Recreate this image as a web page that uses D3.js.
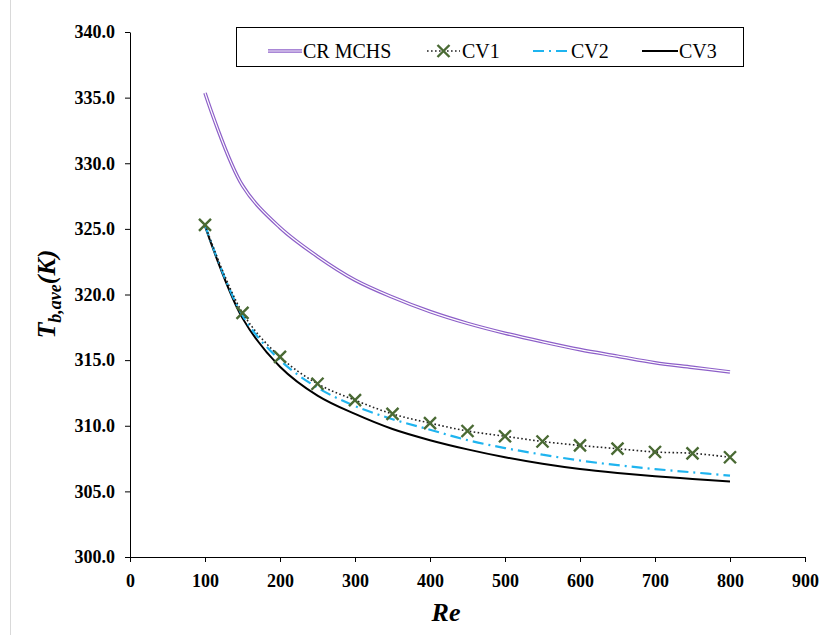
<!DOCTYPE html>
<html>
<head>
<meta charset="utf-8">
<script src="https://cdn.jsdelivr.net/npm/d3@7"></script>
<style>
  body { margin: 0; background: #fff; }
  svg, svg text { font-family: 'Liberation Serif', 'Times New Roman', serif; }
</style>
</head>
<body>
<div id="chart"></div>
<script>
const re = [100, 150, 200, 250, 300, 350, 400, 450, 500, 550, 600, 650, 700, 750, 800];
const crMchs = [335.35, 328.3, 325.1, 322.9, 321.1, 319.8, 318.7, 317.8, 317.05, 316.4, 315.8, 315.3, 314.8, 314.45, 314.1];
const cv1 = [325.3, 318.6, 315.25, 313.2, 311.95, 310.9, 310.2, 309.6, 309.2, 308.8, 308.5, 308.25, 308.0, 307.9, 307.6];
const cv2 = [325.3, 318.4, 315.0, 312.9, 311.5, 310.5, 309.7, 308.9, 308.3, 307.8, 307.35, 307.0, 306.7, 306.45, 306.2];
const cv3 = [325.2, 318.2, 314.5, 312.3, 310.9, 309.75, 308.9, 308.2, 307.6, 307.1, 306.7, 306.4, 306.15, 305.95, 305.75];
const xTicks = [0, 100, 200, 300, 400, 500, 600, 700, 800, 900];
const yTicks = [300, 305, 310, 315, 320, 325, 330, 335, 340];

const width = 828, height = 635;
const serif = "'Liberation Serif', 'Times New Roman', serif";
const svg = d3.select("#chart").append("svg")
  .attr("width", width).attr("height", height)
  .style("font-family", serif);

// faint frame edge on the left
svg.append("line")
  .attr("x1", 10.5).attr("x2", 10.5).attr("y1", 0).attr("y2", height)
  .attr("stroke", "#d9d9d9");

const x = d3.scaleLinear().domain([0, 900]).range([130, 805]);
const y = d3.scaleLinear().domain([300, 340]).range([557, 32]);

const xAxis = svg.append("g")
  .attr("transform", `translate(0,${y(300)})`)
  .call(d3.axisBottom(x).tickValues(xTicks).tickSize(5).tickSizeOuter(0).tickPadding(12));
const yAxis = svg.append("g")
  .attr("transform", `translate(${x(0)},0)`)
  .call(d3.axisLeft(y).tickValues(yTicks).tickFormat(d3.format(".1f")).tickSize(5).tickSizeOuter(0).tickPadding(10));

[xAxis, yAxis].forEach(g => {
  g.attr("font-family", null).style("font-family", serif);
  g.selectAll("path, line").attr("stroke", "#000").attr("stroke-width", 1);
  g.selectAll("text")
    .style("font-family", serif)
    .attr("font-size", 18).attr("font-weight", "bold").attr("fill", "#000");
});

const line = d3.line().x(d => x(d[0])).y(d => y(d[1])).curve(d3.curveCatmullRom.alpha(0.5));
const pts = vals => re.map((r, i) => [r, vals[i]]);

// CR MCHS: double purple line
svg.append("path").attr("d", line(pts(crMchs)))
  .attr("fill", "none").attr("stroke", "#8d5fc8").attr("stroke-width", 3.6);
svg.append("path").attr("d", line(pts(crMchs)))
  .attr("fill", "none").attr("stroke", "#fff").attr("stroke-width", 1.2);

svg.append("path").attr("d", line(pts(cv3)))
  .attr("fill", "none").attr("stroke", "#000").attr("stroke-width", 2);

svg.append("path").attr("d", line(pts(cv2)))
  .attr("fill", "none").attr("stroke", "#1fb4ef").attr("stroke-width", 2.2)
  .attr("stroke-dasharray", "11,5,2,5");

svg.append("path").attr("d", line(pts(cv1)))
  .attr("fill", "none").attr("stroke", "#222").attr("stroke-width", 1.6)
  .attr("stroke-dasharray", "1.6,2.4");

const cross = (g, cx, cy) => {
  const s = 6;
  g.append("path")
    .attr("d", `M${cx - s},${cy - s}L${cx + s},${cy + s}M${cx - s},${cy + s}L${cx + s},${cy - s}`)
    .attr("stroke", "#4a6a34").attr("stroke-width", 2.4).attr("fill", "none");
};
const marks = svg.append("g");
pts(cv1).forEach(d => cross(marks, x(d[0]), y(d[1])));

// legend
const lg = svg.append("g");
lg.append("rect").attr("x", 236.5).attr("y", 27.5).attr("width", 507).attr("height", 39)
  .attr("fill", "#fff").attr("stroke", "#000").attr("stroke-width", 1);
const ly = 51;
lg.append("line").attr("x1", 268).attr("x2", 302).attr("y1", ly).attr("y2", ly)
  .attr("stroke", "#8d5fc8").attr("stroke-width", 3.6);
lg.append("line").attr("x1", 268).attr("x2", 302).attr("y1", ly).attr("y2", ly)
  .attr("stroke", "#fff").attr("stroke-width", 1.2);
lg.append("line").attr("x1", 427).attr("x2", 460).attr("y1", ly).attr("y2", ly)
  .attr("stroke", "#222").attr("stroke-width", 1.6).attr("stroke-dasharray", "1.6,2.4");
cross(lg, 443.5, ly);
lg.append("line").attr("x1", 533).attr("x2", 570).attr("y1", ly).attr("y2", ly)
  .attr("stroke", "#1fb4ef").attr("stroke-width", 2.2).attr("stroke-dasharray", "11,5,2,5");
lg.append("line").attr("x1", 642).attr("x2", 678).attr("y1", ly).attr("y2", ly)
  .attr("stroke", "#000").attr("stroke-width", 2);
const legendText = [["CR MCHS", 303], ["CV1", 462], ["CV2", 571], ["CV3", 679]];
legendText.forEach(([t, lx]) => {
  lg.append("text").attr("x", lx).attr("y", ly + 7).text(t)
    .style("font-family", serif)
    .attr("font-size", 20).attr("fill", "#000");
});

// axis titles
svg.append("text").attr("x", 446).attr("y", 621).attr("text-anchor", "middle")
  .style("font-family", serif)
  .attr("font-size", 26).attr("font-weight", "bold").attr("font-style", "italic")
  .text("Re");

const yt = svg.append("text")
  .attr("transform", "translate(55,294) rotate(-90)")
  .attr("text-anchor", "middle")
  .style("font-family", serif)
  .attr("font-size", 26).attr("font-weight", "bold").attr("font-style", "italic");
yt.append("tspan").text("T");
yt.append("tspan").attr("font-size", 18).attr("dy", 6).text("b,ave");
yt.append("tspan").attr("dy", -6).text("(K)");
</script>
</body>
</html>
